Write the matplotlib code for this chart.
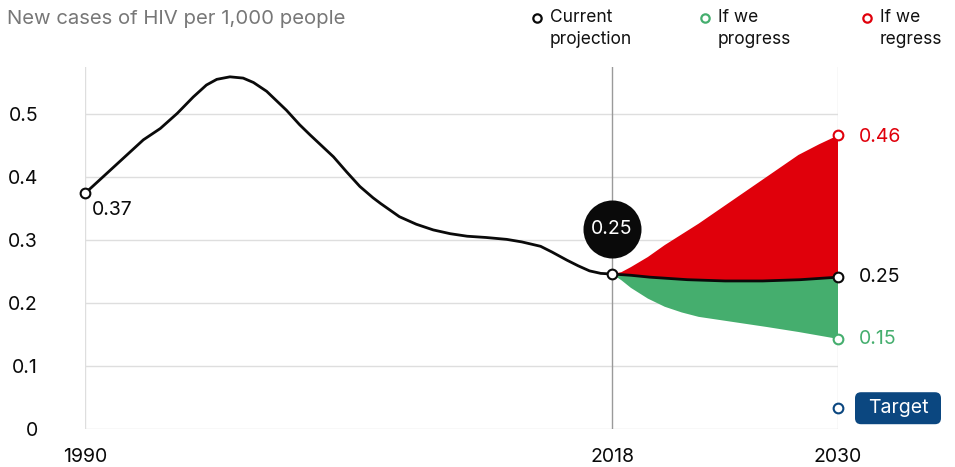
import matplotlib
matplotlib.use("Agg")
import matplotlib.pyplot as plt
from matplotlib.patches import FancyBboxPatch
from matplotlib.transforms import ScaledTranslation

plt.rcParams['font.family'] = ['Inter', 'DejaVu Sans']

# ---- data ----
hist_years = [1990.0, 1993.1, 1994.0, 1994.9, 1995.75, 1996.45, 1997.0, 1997.7, 1998.4,
              1998.95, 1999.65, 2000.7, 2001.4, 2001.95, 2003.2, 2003.9, 2004.6, 2005.3,
              2005.7, 2006.7, 2007.6, 2008.5, 2009.4, 2010.3, 2011.3, 2012.4, 2013.2,
              2014.2, 2014.8, 2015.6, 2016.2, 2016.8, 2017.4, 2018.0]
hist_vals = [0.374, 0.459, 0.477, 0.501, 0.527, 0.546, 0.555, 0.559, 0.557,
             0.550, 0.536, 0.506, 0.483, 0.467, 0.432, 0.408, 0.385, 0.367,
             0.358, 0.337, 0.325, 0.316, 0.310, 0.306, 0.304, 0.301, 0.297,
             0.290, 0.281, 0.268, 0.259, 0.251, 0.247, 0.246]
cur_years = [2018.0, 2019.0, 2020.0, 2021.0, 2022.0, 2023.0, 2024.0, 2025.0, 2026.0,
             2027.0, 2028.0, 2029.0, 2030.0]
current = [0.246, 0.244, 0.241, 0.239, 0.237, 0.236, 0.235, 0.235, 0.235, 0.236,
           0.237, 0.239, 0.241]
reg_years = [2018.0, 2018.5, 2019.0, 2019.9, 2020.8, 2021.7, 2022.6, 2024.4, 2026.2,
             2027.9, 2029.0, 2030.0]
regress = [0.246, 0.249, 0.257, 0.273, 0.292, 0.309, 0.326, 0.363, 0.400,
           0.435, 0.452, 0.466]
prog_years = [2018.0, 2018.5, 2019.0, 2019.9, 2020.8, 2021.7, 2022.6, 2024.4, 2026.2,
              2027.9, 2030.0]
progress = [0.246, 0.236, 0.224, 0.207, 0.194, 0.185, 0.178, 0.170, 0.162,
            0.154, 0.143]
target_year = 2030
target_val = 0.033
y_ticks = [0, 0.1, 0.2, 0.3, 0.4, 0.5]
y_tick_labels = ['0', '0.1', '0.2', '0.3', '0.4', '0.5']
x_ticks = [1990, 2018, 2030]
start_label = '0.37'
bubble_label = '0.25'
end_labels = {'regress': '0.46', 'current': '0.25', 'progress': '0.15'}

RED = '#e0000b'
GREEN = '#45ae6e'
BLACK = '#0a0a0a'
BLUE = '#0b4780'
GRID = '#dedede'
FS = 14

W, H = 955, 467
fig = plt.figure(figsize=(W / 100, H / 100), dpi=100)
x0_px, x1_px = 85, 838
y0_px = 429
px_per_unit = 630
ytop = 0.575
ax = fig.add_axes([x0_px / W, (H - y0_px) / H, (x1_px - x0_px) / W, ytop * px_per_unit / H])
ax.set_xlim(1990, 2030)
ax.set_ylim(0, ytop)
for s in ax.spines.values():
    s.set_visible(False)
ax.set_xticks([])
ax.set_yticks([])

# grid
for yv in y_ticks:
    ax.axhline(yv, color=GRID, lw=1.0, zorder=0)
ax.axvline(1990, color=GRID, lw=1.0, zorder=0)
ax.axvline(2030, color=GRID, lw=1.0, zorder=0)
ax.axvline(2018, color='#9a9a9a', lw=1.0, zorder=1)

# fills (polygons built from the series)
ax.fill(reg_years + cur_years[::-1], regress + current[::-1], color=RED, lw=0, zorder=2)
ax.fill(prog_years + cur_years[::-1], progress + current[::-1], color=GREEN, lw=0, zorder=2)

# lines
ax.plot(hist_years, hist_vals, color=BLACK, lw=2.0, zorder=3,
        solid_capstyle='round', solid_joinstyle='round')
ax.plot(cur_years, current, color=BLACK, lw=2.0, zorder=3,
        solid_capstyle='round', solid_joinstyle='round')

mk = dict(marker='o', markersize=7, markerfacecolor='white', markeredgewidth=1.5,
          clip_on=False, zorder=6, linestyle='none')
ax.plot([hist_years[0]], [hist_vals[0]], markeredgecolor=BLACK, **mk)
ax.plot([hist_years[-1]], [hist_vals[-1]], markeredgecolor=BLACK, **mk)
ax.plot([cur_years[-1]], [current[-1]], markeredgecolor=BLACK, **mk)
ax.plot([reg_years[-1]], [regress[-1]], markeredgecolor=RED, **mk)
ax.plot([prog_years[-1]], [progress[-1]], markeredgecolor=GREEN, **mk)
ax.plot([target_year], [target_val], markeredgecolor=BLUE, **mk)

# bubble
bubble_y = hist_vals[-1] + 0.071
ax.scatter([2018], [bubble_y], s=1745, color=BLACK, zorder=7, clip_on=False, lw=0)
ax.text(2018, bubble_y, bubble_label, color='white', fontsize=FS, ha='center',
        va='center', zorder=8)

# labels
ax.annotate(start_label, (hist_years[0], hist_vals[0]), xytext=(7, -8),
            textcoords='offset pixels', fontsize=FS, color=BLACK, ha='left', va='top')
ax.annotate(end_labels['regress'], (2030, regress[-1]), xytext=(21, -2),
            textcoords='offset pixels', fontsize=FS, color=RED, ha='left', va='center')
ax.annotate(end_labels['current'], (2030, current[-1]), xytext=(21, 0),
            textcoords='offset pixels', fontsize=FS, color=BLACK, ha='left', va='center')
ax.annotate(end_labels['progress'], (2030, progress[-1]), xytext=(21, 0),
            textcoords='offset pixels', fontsize=FS, color=GREEN, ha='left', va='center')

# target badge (positioned relative to the target point, in inches)
trans = fig.dpi_scale_trans + ScaledTranslation(target_year, target_val, ax.transData)
badge = FancyBboxPatch((0.17, -0.16), 0.86, 0.32,
                       boxstyle='round,pad=0,rounding_size=0.06',
                       fc=BLUE, ec='none', transform=trans, clip_on=False, zorder=6)
ax.add_patch(badge)
ax.text(0.60, 0.0, 'Target', transform=trans, fontsize=FS, color='white',
        ha='center', va='center', zorder=7, clip_on=False)

# tick labels
for yv, lab in zip(y_ticks, y_tick_labels):
    ax.annotate(lab, (1990, yv), xytext=(38 - x0_px, -2), textcoords='offset pixels',
                ha='right', va='center', fontsize=FS, color=BLACK, annotation_clip=False)
for xv in x_ticks:
    ax.annotate(str(xv), (xv, 0), xytext=(0, -(457 - y0_px)), textcoords='offset pixels',
                ha='center', va='center', fontsize=FS, color=BLACK, annotation_clip=False)

# title
fig.text(7 / W, 1 - 19 / H, 'New cases of HIV per 1,000 people', fontsize=14.6,
         color='#777777', ha='left', va='center')

# legend
leg = [(537, BLACK, 'Current', 'projection'), (705, GREEN, 'If we', 'progress'),
       (867, RED, 'If we', 'regress')]
for xp, c, t1, t2 in leg:
    fig.lines.append(plt.Line2D([xp / W], [1 - 18 / H], marker='o', markersize=6,
                                markerfacecolor='white', markeredgecolor=c,
                                markeredgewidth=1.6, transform=fig.transFigure))
    fig.text((xp + 13) / W, 1 - 18 / H, t1, fontsize=12.5, color='#111111', ha='left',
             va='center')
    fig.text((xp + 13) / W, 1 - 40 / H, t2, fontsize=12.5, color='#111111', ha='left',
             va='center')

fig.savefig('out.png', dpi=100)
